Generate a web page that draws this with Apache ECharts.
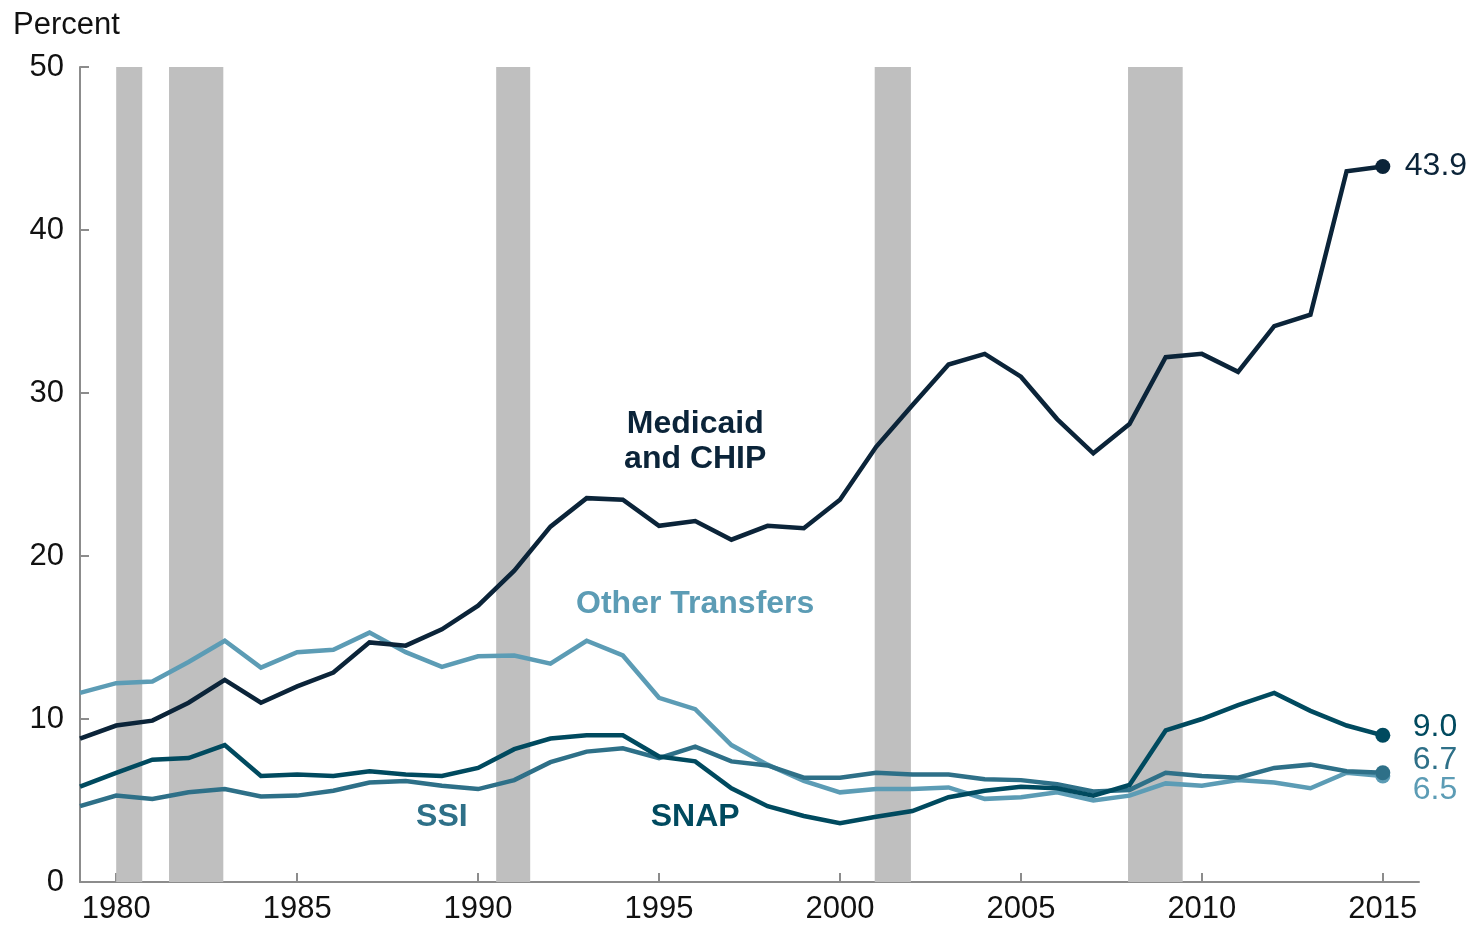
<!DOCTYPE html>
<html>
<head>
<meta charset="utf-8">
<script src="https://cdn.jsdelivr.net/npm/echarts@6/dist/echarts.min.js"></script>
<style>
html,body{margin:0;padding:0;background:#fff;}
#chart{width:1472px;height:925px;}
</style>
</head>
<body>
<div id="chart"></div>
<script>
const years = [1979,1980,1981,1982,1983,1984,1985,1986,1987,1988,1989,1990,1991,1992,1993,1994,1995,1996,1997,1998,1999,2000,2001,2002,2003,2004,2005,2006,2007,2008,2009,2010,2011,2012,2013,2014,2015];
const medicaid = [8.8,9.6,9.9,11.0,12.4,11.0,12.0,12.85,14.7,14.5,15.5,16.95,19.1,21.8,23.55,23.45,21.85,22.15,21.0,21.85,21.7,23.45,26.7,29.25,31.75,32.4,31.0,28.4,26.3,28.1,32.2,32.4,31.3,34.1,34.8,43.6,43.9];
const otherTransfers = [11.6,12.2,12.3,13.5,14.8,13.15,14.1,14.25,15.3,14.1,13.2,13.85,13.9,13.4,14.8,13.9,11.3,10.6,8.4,7.2,6.2,5.5,5.7,5.7,5.8,5.1,5.2,5.5,5.0,5.3,6.05,5.9,6.25,6.1,5.75,6.7,6.5];
const snap = [5.85,6.7,7.5,7.6,8.4,6.5,6.6,6.5,6.8,6.6,6.5,7.0,8.15,8.8,9.0,9.0,7.7,7.4,5.75,4.65,4.05,3.6,4.0,4.35,5.2,5.6,5.85,5.75,5.3,5.95,9.3,10.0,10.85,11.6,10.5,9.6,9.0];
const ssi = [4.65,5.3,5.1,5.5,5.7,5.25,5.3,5.6,6.1,6.2,5.9,5.7,6.25,7.35,8.0,8.2,7.6,8.3,7.4,7.15,6.4,6.4,6.7,6.6,6.6,6.3,6.25,6.0,5.55,5.65,6.7,6.5,6.4,7.0,7.2,6.8,6.7];
const xTickLabels = [1980,1985,1990,1995,2000,2005,2010,2015];
const yTicks = [0,10,20,30,40,50];
const recessions = [[1980.0,1980.72],[1981.46,1982.96],[1990.5,1991.44],[2000.96,2001.96],[2007.96,2009.47]];

const C_MED = '#0b2439', C_SNAP = '#004a5f', C_SSI = '#2e7088', C_OTH = '#5c9cb5';
const FONT = '"Liberation Sans", Arial, sans-serif';

function build(vals){
  return years.map((y,i)=> i===years.length-1
    ? {value:[y,vals[i]], symbol:'circle', symbolSize:15}
    : {value:[y,vals[i]]});
}
function lineSeries(name, vals, color, offset){
  return {
    name, type:'line', data: build(vals), symbol:'none', z:3,
    lineStyle:{color, width:4.5, join:'miter'},
    itemStyle:{color},
    emphasis:{disabled:true},
    silent:true,
    endLabel:{show:true, formatter:(p)=>p.value[1].toFixed(1), color, fontSize:32, fontFamily:FONT, offset, distance:14}
  };
}
function annot(text, coord, color){
  return {symbol:'circle', symbolSize:0, coord, label:{show:true, position:'inside', formatter:text, color, fontSize:32, fontWeight:'bold', fontFamily:FONT, lineHeight:35}};
}

const chart = echarts.init(document.getElementById('chart'), null, {renderer:'canvas'});
const medS = lineSeries('Medicaid and CHIP', medicaid, C_MED, [8,0]);
medS.markPoint = {silent:true, data:[annot('Medicaid\nand CHIP',[1996,27.0],C_MED)]};
const othS = lineSeries('Other Transfers', otherTransfers, C_OTH, [16,14]);
othS.markPoint = {silent:true, data:[annot('Other Transfers',[1996,17.05],C_OTH)]};
const snapS = lineSeries('SNAP', snap, C_SNAP, [16,-8]);
snapS.markPoint = {silent:true, data:[annot('SNAP',[1996,4.0],C_SNAP)]};
const ssiS = lineSeries('SSI', ssi, C_SSI, [16,-13]);
ssiS.markPoint = {silent:true, data:[annot('SSI',[1989,4.0],C_SSI)]};

chart.setOption({
  animation:false,
  backgroundColor:'#fff',
  textStyle:{fontFamily:FONT},
  grid:{left:80, right:53, top:67, bottom:38, containLabel:false},
  graphic:[{type:'text', left:13, top:10, style:{text:'Percent', fontSize:31, fontFamily:FONT, fill:'#111'}}],
  xAxis:{
    type:'value', min:1979, max:2016,
    splitLine:{show:false},
    axisLine:{show:true, lineStyle:{color:'#8c8c8c', width:2}},
    axisTick:{show:true, inside:true, length:9, customValues:xTickLabels, lineStyle:{color:'#8c8c8c', width:2}},
    axisLabel:{customValues:xTickLabels, fontSize:31, color:'#111', margin:12, fontFamily:FONT, formatter:(v)=>String(v)}
  },
  yAxis:{
    type:'value', min:0, max:50, interval:10,
    splitLine:{show:false},
    axisLine:{show:true, lineStyle:{color:'#8c8c8c', width:2}},
    axisTick:{show:true, inside:true, length:9, lineStyle:{color:'#8c8c8c', width:2}},
    axisLabel:{fontSize:31, color:'#111', margin:16, fontFamily:FONT, customValues:yTicks}
  },
  series:[
    {type:'line', data:[], z:1, silent:true,
     markArea:{silent:true, itemStyle:{color:'#bfbfbf'}, data: recessions.map(r=>[{xAxis:r[0]},{xAxis:r[1]}])}},
    othS, ssiS, snapS, medS
  ]
});
</script>
</body>
</html>
